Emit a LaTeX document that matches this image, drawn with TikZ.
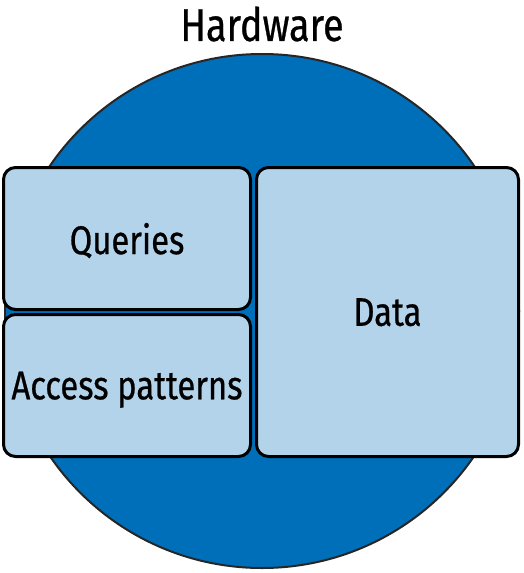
\documentclass[tikz,border=0pt]{standalone}
\usepackage{fontspec}
\setmainfont[FakeStretch=0.82, FakeBold=0.6]{Fira Sans}
\definecolor{hwblue}{RGB}{0,111,186}
\definecolor{boxblue}{RGB}{178,211,234}
\tikzset{
	part/.style={draw=black, line width=3pt, fill=boxblue, rounded corners=12pt, inner sep=0pt, text depth=0pt, font=\fontsize{40}{44}\selectfont}
}
\begin{document}
\begin{tikzpicture}[x=1pt, y=-1pt]
		\useasboundingbox (0,0) rectangle (523,573);
		
		% Hardware
		\node[draw=black!85, line width=2pt, fill=hwblue, circle, minimum size=514pt, inner sep=0pt] (hw) at (262,311) {};
		\node[font=\fontsize{46}{50}\selectfont] (title) at (262,24) {Hardware};
		
		% Parts
		\node[part, minimum width=247pt, minimum height=142pt] (queries) at (127,238.5) {Queries};
		\node[part, minimum width=247pt, minimum height=142pt] (access) at (127,385.5) {Access patterns};
		\node[part, minimum width=262pt, minimum height=289pt] (data) at (387.5,312) {Data};
	\end{tikzpicture}
\end{document}
